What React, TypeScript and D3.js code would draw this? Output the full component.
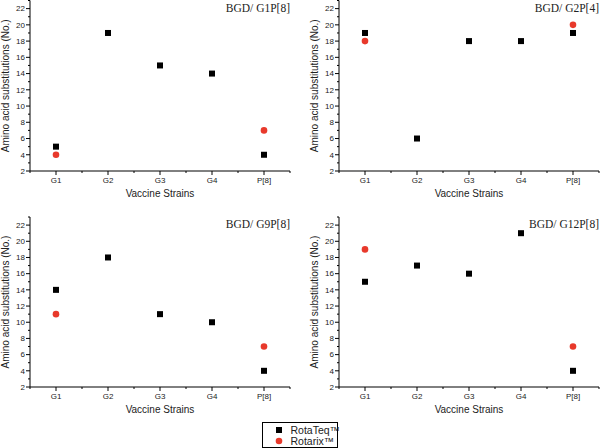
import React from "react";
import * as d3 from "d3";

const strains = ["G1", "G2", "G3", "G4", "P[8]"];
const panelTitles = ["BGD/ G1P[8]", "BGD/ G2P[4]", "BGD/ G9P[8]", "BGD/ G12P[8]"];
const rotaTeq = [
  [5, 19, 15, 14, 4],
  [19, 6, 18, 18, 19],
  [14, 18, 11, 10, 4],
  [15, 17, 16, 21, 4],
];
const rotarixStrains = ["G1", "P[8]"];
const rotarix = [
  [4, 7],
  [18, 20],
  [11, 7],
  [19, 7],
];
const yMajorTicks = [2, 4, 6, 8, 10, 12, 14, 16, 18, 20, 22];
const yMinorTicks = [3, 5, 7, 9, 11, 13, 15, 17, 19, 21, 23];
const seriesNames = ["RotaTeq™", "Rotarix™"];

const RED = "#e8392b";

const panelBoxes = [
  { x0: 30, x1: 290, y0: 171, y1: 0.5 },
  { x0: 339, x1: 599, y0: 171, y1: 0.5 },
  { x0: 30, x1: 290, y0: 387, y1: 217 },
  { x0: 339, x1: 599, y0: 387, y1: 217 },
];

function Panel({ idx }: { idx: number }) {
  const b = panelBoxes[idx];
  const x = d3.scaleLinear().domain([0.5, 5.5]).range([b.x0, b.x1]);
  const y = d3.scaleLinear().domain([2, 23]).range([b.y0, b.y1]);
  const pos = (s: string) => x(strains.indexOf(s) + 1);
  const xMinor = d3.range(0.5, 5.51, 1);
  const sq = 6;
  return (
    <g>
      <line x1={b.x0} x2={b.x0} y1={b.y0} y2={b.y1} stroke="#000" strokeWidth={1} />
      <line x1={b.x0} x2={b.x1} y1={b.y0} y2={b.y0} stroke="#000" strokeWidth={1} />
      {yMajorTicks.map((t) => (
        <g key={"ym" + t}>
          <line x1={b.x0 - 4} x2={b.x0} y1={y(t)} y2={y(t)} stroke="#000" />
          <text x={b.x0 - 5} y={y(t)} dy="0.35em" textAnchor="end" fontSize={8} fontFamily="Liberation Sans, Arial" fill="#222">
            {t}
          </text>
        </g>
      ))}
      {yMinorTicks.map((t) => (
        <line key={"yn" + t} x1={b.x0 - 2} x2={b.x0} y1={y(t)} y2={y(t)} stroke="#000" />
      ))}
      {strains.map((s) => (
        <g key={"xm" + s}>
          <line x1={pos(s)} x2={pos(s)} y1={b.y0} y2={b.y0 + 4} stroke="#000" />
          <text x={pos(s)} y={b.y0 + 9} dy="0.35em" textAnchor="middle" fontSize={8} fontFamily="Liberation Sans, Arial" fill="#222">
            {s}
          </text>
        </g>
      ))}
      {xMinor.map((t) => (
        <line key={"xn" + t} x1={x(t)} x2={x(t)} y1={b.y0} y2={b.y0 + 2} stroke="#000" />
      ))}
      <text
        x={(b.x0 + b.x1) / 2}
        y={b.y0 + 22}
        dy="0.35em"
        textAnchor="middle"
        fontSize={10}
        fontFamily="Liberation Sans, Arial"
        fill="#222"
      >
        Vaccine Strains
      </text>
      <text
        transform={`translate(${b.x0 - 24.5},${(b.y0 + b.y1) / 2}) rotate(-90)`}
        dy="0.35em"
        textAnchor="middle"
        fontSize={10}
        fontFamily="Liberation Sans, Arial"
        fill="#222"
      >
        Amino acid substitutions (No.)
      </text>
      <text x={b.x1} y={b.y1 + 11} textAnchor="end" fontSize={11.5} fontFamily="Liberation Serif, Times New Roman" fill="#222">
        {panelTitles[idx]}
      </text>
      {rotaTeq[idx].map((v, i) => (
        <rect key={"rt" + i} x={x(i + 1) - sq / 2} y={y(v) - sq / 2} width={sq} height={sq} fill="#000" />
      ))}
      {rotarix[idx].map((v, i) => (
        <circle key={"rx" + i} cx={pos(rotarixStrains[i])} cy={y(v)} r={3.3} fill={RED} />
      ))}
    </g>
  );
}

export default function App() {
  return (
    <div style={{ position: "absolute", left: 0, top: 0 }}>
      <svg width={600} height={448} style={{ display: "block", background: "#fff" }}>
        {[0, 1, 2, 3].map((i) => (
          <Panel key={i} idx={i} />
        ))}
        <g>
          <rect x={262.5} y={422.5} width={75} height={25} fill="#fff" stroke="#000" strokeWidth={1} />
          <rect x={276} y={427} width={6} height={6} fill="#000" />
          <circle cx={279} cy={441} r={3.3} fill={RED} />
          <text x={290.5} y={430} dy="0.35em" fontSize={10.5} fontFamily="Liberation Sans, Arial" fill="#222">
            {seriesNames[0]}
          </text>
          <text x={290.5} y={441.5} dy="0.35em" fontSize={10.5} fontFamily="Liberation Sans, Arial" fill="#222">
            {seriesNames[1]}
          </text>
        </g>
      </svg>
    </div>
  );
}
